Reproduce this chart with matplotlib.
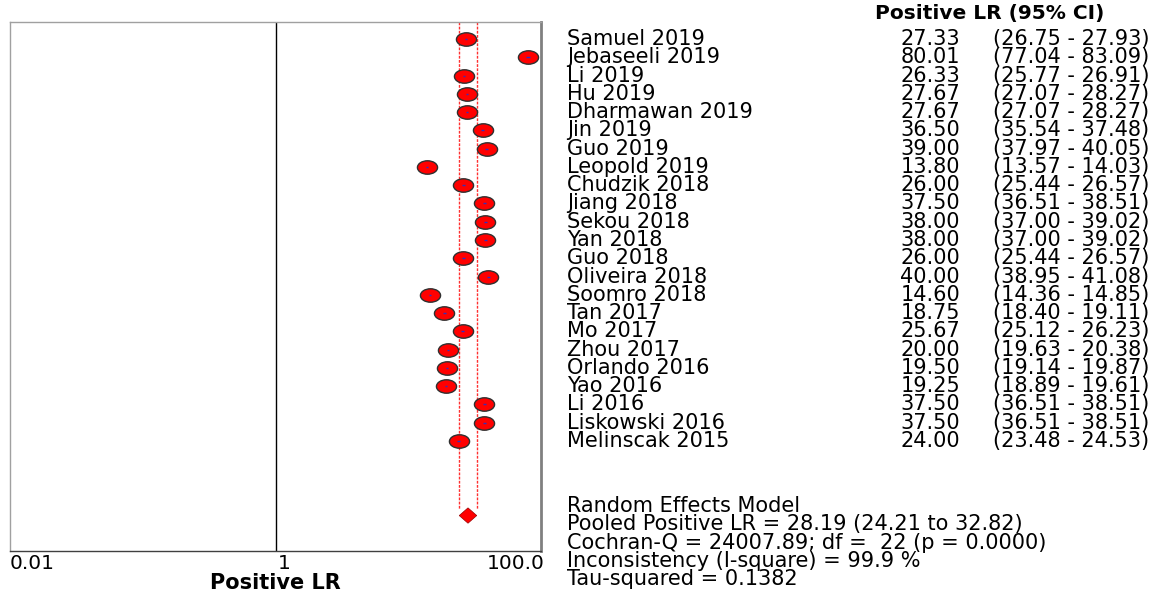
import numpy as np
import matplotlib
matplotlib.use('Agg')
import matplotlib.pyplot as plt
from matplotlib.path import Path
from matplotlib.transforms import blended_transform_factory, Affine2D

plt.rcParams['font.family'] = 'DejaVu Sans'

studies = ['Samuel 2019', 'Jebaseeli 2019', 'Li 2019', 'Hu 2019', 'Dharmawan 2019',
           'Jin 2019', 'Guo 2019', 'Leopold 2019', 'Chudzik 2018', 'Jiang 2018',
           'Sekou 2018', 'Yan 2018', 'Guo 2018', 'Oliveira 2018', 'Soomro 2018',
           'Tan 2017', 'Mo 2017', 'Zhou 2017', 'Orlando 2016', 'Yao 2016',
           'Li 2016', 'Liskowski 2016', 'Melinscak 2015']
plr = [27.33, 80.01, 26.33, 27.67, 27.67, 36.50, 39.00, 13.80, 26.00, 37.50,
       38.00, 38.00, 26.00, 40.00, 14.60, 18.75, 25.67, 20.00, 19.50, 19.25,
       37.50, 37.50, 24.00]
ci_lo = [26.75, 77.04, 25.77, 27.07, 27.07, 35.54, 37.97, 13.57, 25.44, 36.51,
         37.00, 37.00, 25.44, 38.95, 14.36, 18.40, 25.12, 19.63, 19.14, 18.89,
         36.51, 36.51, 23.48]
ci_hi = [27.93, 83.09, 26.91, 28.27, 28.27, 37.48, 40.05, 14.03, 26.57, 38.51,
         39.02, 39.02, 26.57, 41.08, 14.85, 19.11, 26.23, 20.38, 19.87, 19.61,
         38.51, 38.51, 24.53]

pooled = 28.19
pooled_lo = 24.21
pooled_hi = 32.82
summary_lines = ['Random Effects Model',
                 'Pooled Positive LR = 28.19 (24.21 to 32.82)',
                 'Cochran-Q = 24007.89; df =  22 (p = 0.0000)',
                 'Inconsistency (I-square) = 99.9 %',
                 'Tau-squared = 0.1382']

W, H = 1171, 592
fig = plt.figure(figsize=(W / 100, H / 100), dpi=100)
ax = fig.add_axes([10 / W, 1 - 551 / H, 531 / W, 529 / H])

rows = np.arange(len(studies))
diamond_row = 26.08

# red dashed lines at pooled CI
for v in (pooled_lo, pooled_hi):
    ax.plot([v, v], [-0.93, diamond_row - 0.35], color='#ff3030', lw=1.0,
            ls=(0, (2, 1)), zorder=1)

# line of no effect
ax.axvline(1, color='black', lw=1, zorder=1)

# elliptical markers
circ = Path.unit_circle()
ell = circ.transformed(Affine2D().scale(1.5, 1.0))
ax.plot(plr, rows, ls='none', marker=ell, markersize=14.5, markerfacecolor='red',
        markeredgecolor='#303030', markeredgewidth=1.0, zorder=3)
ax.hlines(rows, ci_lo, ci_hi, color='#3030c0', lw=1, zorder=4)

# pooled diamond
dx = [pooled_lo, pooled, pooled_hi, pooled]
dy = [diamond_row, diamond_row - 0.42, diamond_row, diamond_row + 0.42]
ax.fill(dx, dy, color='red', edgecolor='#990000', lw=0.5, zorder=3)

ax.set_xscale('log')
ax.set_xlim(0.01, 100)
ax.set_ylim(28.02, -0.93)
ax.set_yticks([])
ax.set_xticks([0.01, 1, 100])
ax.set_xticklabels(['0.01', '1', '100.0'], fontsize=14.5)
ax.minorticks_off()
ax.tick_params(axis='x', length=0, pad=2)
labs = ax.get_xticklabels()
labs[0].set_horizontalalignment('left')
labs[1].set_horizontalalignment('left')
labs[2].set_horizontalalignment('right')
labs[1].set_transform(labs[1].get_transform() + Affine2D().translate(2, 0))
labs[2].set_transform(labs[2].get_transform() + Affine2D().translate(4, 0))

for side in ['left', 'top']:
    ax.spines[side].set_color('#a0a0a0')
    ax.spines[side].set_linewidth(1)
ax.spines['right'].set_color('#808080')
ax.spines['right'].set_linewidth(2)
ax.spines['bottom'].set_color('#404040')
ax.spines['bottom'].set_linewidth(1)

ax.set_xlabel('Positive LR', fontsize=15, fontweight='bold', labelpad=0)

# table text on the right
tr = blended_transform_factory(fig.transFigure, ax.transData)
fs = 15
fig.text(990 / W, 1 - 13 / H, 'Positive LR (95% CI)', fontsize=14.5, fontweight='bold',
         ha='center', va='center')
for i, name in enumerate(studies):
    ax.text(567 / W, i, name, transform=tr, fontsize=fs, ha='left', va='center', clip_on=False)
    ax.text(960 / W, i, '%.2f' % plr[i], transform=tr, fontsize=fs, ha='right',
            va='center', clip_on=False)
    ax.text(1071 / W, i, '(%.2f - %.2f)' % (ci_lo[i], ci_hi[i]), transform=tr,
            fontsize=fs, ha='center', va='center', clip_on=False)

for k, line in enumerate(summary_lines):
    ax.text(567 / W, 25.56 + k, line, transform=tr, fontsize=fs, ha='left',
            va='center', clip_on=False)

fig.savefig('out.png', dpi=100)
